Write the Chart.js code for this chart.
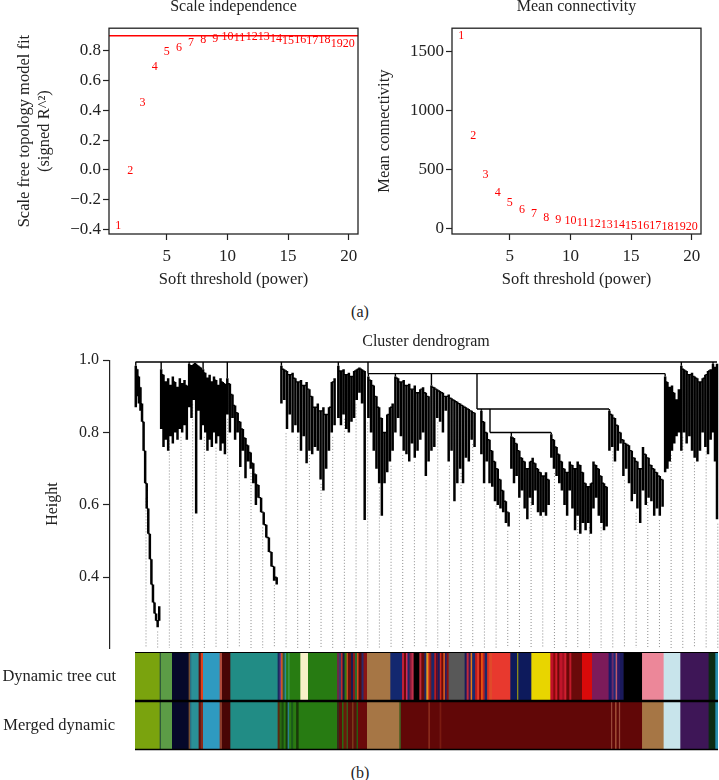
<!DOCTYPE html>
<html>
<head>
<meta charset="utf-8">
<script src="https://cdn.jsdelivr.net/npm/chart.js@4.4.0/dist/chart.umd.min.js"></script>
<style>
  html, body { margin: 0; padding: 0; background: #fff; }
  body { width: 719px; height: 780px; position: relative; overflow: hidden;
         font-family: "Liberation Serif", "DejaVu Serif", serif; color: #222; }
  .pane { position: absolute; }
  .cap { position: absolute; font-size: 16px; width: 40px; margin-left: -20px; text-align: center; }
</style>
</head>
<body>
<div class="pane" style="left:0;top:-3px"><canvas id="sftChart" width="362" height="300"></canvas></div>
<div class="pane" style="left:360px;top:-3px"><canvas id="kChart" width="359" height="300"></canvas></div>
<div class="cap" style="left:360px;top:303px">(a)</div>
<div class="pane" style="left:0;top:320px"><canvas id="dendroChart" width="742" height="330"></canvas></div>
<div class="pane" style="left:0;top:650px"><canvas id="colorChart" width="719" height="102"></canvas></div>
<div class="cap" style="left:360px;top:764px">(b)</div>

<script>
// ---- (a) soft threshold panels ----
const powers = [1, 2, 3, 4, 5, 6, 7, 8, 9, 10, 11, 12, 13, 14, 15, 16, 17, 18, 19, 20];
const sftFit = [-0.375, -0.005, 0.45, 0.69, 0.793, 0.822, 0.853, 0.874, 0.878, 0.894,
                0.885, 0.894, 0.89, 0.882, 0.867, 0.87, 0.867, 0.87, 0.849, 0.845];
const meanK = [1630, 790, 455, 305, 220, 160, 128, 92, 76, 63,
               48, 44, 33, 30, 26, 21, 20, 17, 16, 13];
const sftCut = 0.9;
const powerTicks = [5, 10, 15, 20];
const fitTicks = [-0.4, -0.2, 0, 0.2, 0.4, 0.6, 0.8];
const kTicks = [0, 500, 1000, 1500];

// ---- (b) dendrogram: leaf order positions and merge heights ----
const heightTicks = [0.4, 0.6, 0.8, 1.0];
const mergeLines = [          // [leaf1, height1, leaf2, height2]
  [1.5, 0.995, 583, 0.995],
  [234, 0.963, 531, 0.963],
  [234, 0.963, 234, 0.995],
  [343, 0.865, 475, 0.865],
  [343, 0.865, 343, 0.963],
  [356, 0.80, 417, 0.80],
  [356, 0.80, 356, 0.865]
];
const branchSpan = [[1, 26], [26, 54], [54, 68], [68, 92], [92, 144], [146, 202], [203, 232], [233, 260],
                    [260, 296], [296, 342], [346, 376], [376, 416], [416, 474], [474, 530], [530, 546],
                    [546, 578], [578, 584]];
const branchJoin = [0.995, 0.995, 0.995, 0.995, 0.995, 0.995, 0.995, 0.963,
                    0.963, 0.963, 0.865, 0.80, 0.80, 0.865, 0.963, 0.995, 0.995];
const branchTops = [
  [0.985, 0.975, 0.955, 0.925, 0.88, 0.83, 0.75, 0.66, 0.59, 0.52, 0.45, 0.38, 0.33, 0.30, 0.28, 0.32],
  [0.975, 0.96, 0.94, 0.95, 0.93, 0.955, 0.94, 0.925, 0.95, 0.935, 0.945, 0.93],
  [0.99, 0.985, 0.99, 0.99, 0.985, 0.98],
  [0.975, 0.965, 0.95, 0.96, 0.94, 0.955, 0.945, 0.93, 0.95, 0.94, 0.935],
  [0.95, 0.935, 0.905, 0.875, 0.855, 0.83, 0.81, 0.785, 0.765, 0.745, 0.715, 0.685, 0.655, 0.62, 0.58, 0.545, 0.51, 0.47, 0.43, 0.40],
  [0.985, 0.975, 0.97, 0.96, 0.965, 0.95, 0.94, 0.945, 0.93, 0.94, 0.92, 0.9, 0.87, 0.88, 0.86, 0.87, 0.85, 0.87, 0.94, 0.95],
  [0.985, 0.97, 0.975, 0.96, 0.965, 0.955, 0.97, 0.975, 0.98, 0.975, 0.97],
  [0.955, 0.945, 0.93, 0.90, 0.87, 0.84, 0.80, 0.85, 0.87, 0.88],
  [0.955, 0.95, 0.94, 0.945, 0.93, 0.935, 0.92, 0.93, 0.91, 0.92, 0.925, 0.91, 0.9],
  [0.93, 0.925, 0.92, 0.915, 0.91, 0.90, 0.905, 0.895, 0.89, 0.885, 0.88, 0.875, 0.87, 0.865, 0.86, 0.855],
  [0.86, 0.83, 0.80, 0.78, 0.75, 0.72, 0.70, 0.67, 0.64, 0.61, 0.58],
  [0.79, 0.785, 0.77, 0.75, 0.73, 0.72, 0.70, 0.72, 0.73, 0.715, 0.70, 0.69, 0.68, 0.69, 0.67],
  [0.795, 0.78, 0.76, 0.74, 0.72, 0.70, 0.69, 0.72, 0.71, 0.70, 0.72, 0.71, 0.69, 0.66, 0.65, 0.66, 0.72, 0.71, 0.70, 0.68, 0.66, 0.65],
  [0.86, 0.85, 0.84, 0.82, 0.80, 0.78, 0.77, 0.765, 0.75, 0.73, 0.72, 0.70, 0.76, 0.74, 0.73, 0.71, 0.70, 0.69, 0.68, 0.67],
  [0.955, 0.94, 0.925, 0.93, 0.91, 0.89, 0.92],
  [0.985, 0.975, 0.97, 0.96, 0.965, 0.955, 0.95, 0.94, 0.95, 0.96, 0.97, 0.975],
  [0.99, 0.98, 0.99]
];
const branchTips = [
  [0.87, 0.90, 0.88, 0.86, 0.83, 0.79, 0.72, 0.63, 0.56, 0.49, 0.42, 0.35, 0.30, 0.28, 0.262, 0.29],
  [0.81, 0.76, 0.78, 0.75, 0.79, 0.77, 0.80, 0.78, 0.81, 0.80, 0.82, 0.78],
  [0.87, 0.84, 0.89, 0.576, 0.86, 0.78],
  [0.82, 0.80, 0.75, 0.78, 0.76, 0.80, 0.77, 0.79, 0.75, 0.77, 0.74],
  [0.85, 0.80, 0.84, 0.78, 0.80, 0.705, 0.75, 0.674, 0.72, 0.70, 0.66, 0.60, 0.62, 0.58, 0.55, 0.51, 0.47, 0.43, 0.39, 0.38],
  [0.88, 0.89, 0.81, 0.85, 0.80, 0.82, 0.80, 0.75, 0.79, 0.715, 0.75, 0.74, 0.76, 0.75, 0.67, 0.64, 0.70, 0.75, 0.80, 0.82],
  [0.84, 0.82, 0.85, 0.81, 0.80, 0.83, 0.84, 0.89, 0.91, 0.88, 0.558],
  [0.84, 0.80, 0.75, 0.70, 0.66, 0.57, 0.66, 0.69, 0.72, 0.75],
  [0.80, 0.84, 0.79, 0.75, 0.74, 0.72, 0.77, 0.73, 0.75, 0.78, 0.80, 0.68, 0.72],
  [0.75, 0.76, 0.84, 0.83, 0.80, 0.86, 0.72, 0.75, 0.61, 0.66, 0.70, 0.66, 0.73, 0.72, 0.78, 0.76],
  [0.74, 0.66, 0.72, 0.66, 0.65, 0.61, 0.60, 0.59, 0.58, 0.55, 0.54],
  [0.70, 0.66, 0.68, 0.62, 0.64, 0.59, 0.56, 0.62, 0.60, 0.64, 0.58, 0.57, 0.58, 0.57, 0.60],
  [0.73, 0.70, 0.68, 0.66, 0.64, 0.60, 0.57, 0.64, 0.59, 0.53, 0.57, 0.52, 0.55, 0.53, 0.55, 0.52, 0.59, 0.62, 0.57, 0.55, 0.53, 0.54],
  [0.75, 0.76, 0.72, 0.75, 0.77, 0.68, 0.70, 0.66, 0.61, 0.63, 0.59, 0.55, 0.64, 0.60, 0.62, 0.61, 0.57, 0.59, 0.57, 0.595],
  [0.69, 0.70, 0.72, 0.75, 0.77, 0.79, 0.80],
  [0.75, 0.80, 0.77, 0.79, 0.75, 0.73, 0.72, 0.75, 0.80, 0.76, 0.74, 0.78],
  [0.80, 0.72, 0.56]
];
const guideCount = 50;
const guideFirst = 12;
const guideLast = 583.8;

// ---- (b) module colour rows (module sizes in leaf order) ----
const rowLabels = ['Dynamic tree cut', 'Merged dynamic'];
const dynamicSizes = [24.3, 1.4, 11, 16.6, 1.3, 1.4, 7.3, 2.2, 2.2, 16.6, 2.4, 8.3, 47.3,
  2, 1.5, 1.5, 2, 1.5, 2, 1.5, 10.7, 7.7, 29,
  2, 2, 1.5, 2, 2, 1.5, 3, 2, 2, 2, 1.5, 3, 2, 3.5,
  23.3, 11.7, 2, 2, 1.5, 2, 2, 2.1, 5.7,
  2, 3, 2, 1.5, 1.5, 2, 3, 1.5, 2, 2, 1.5, 2, 1.5, 2, 1.8,
  16, 2, 2, 2, 1.5, 3, 2, 2, 2, 1.5, 2, 2.5, 2, 2.9,
  18.3, 6.7, 1.3, 13, 19, 3, 2, 2, 2, 3, 2, 2, 3, 2, 10.7,
  10, 16.6, 3, 2, 2, 1.5, 3, 3.5, 18.4, 21.6, 16.7, 28.3, 6.7, 3];
const dynamicColors = ['#7aa30e', '#2f5a3a', '#5c9c46', '#06082a', '#7a4a2a', '#2c6f80', '#2a9097', '#5a1010', '#e0401a', '#2f9ac0', '#b04a3a', '#480505', '#218c85',
  '#1a2a60', '#6a3a8a', '#e05a1a', '#2a5a3a', '#2a8f95', '#287c12', '#3a9a4a', '#287c12', '#f8f0c8', '#277b12',
  '#6a2a4a', '#3a3a6a', '#c02a2a', '#1a1a40', '#2a7a12', '#c04a1a', '#6a1010', '#1a1a50', '#8a1a1a', '#2a6a2a', '#d05020', '#5a0a0a', '#2a2a6a', '#8a1515',
  '#a67645', '#13286f', '#c0203a', '#6a0a0a', '#d02a5a', '#1a2a6a', '#8a1a3a', '#c0304a', '#000000',
  '#c02a3a', '#6a0a0a', '#1a2a6a', '#e0a020', '#e04a1a', '#8a1a1a', '#1a286a', '#c01a1a', '#5a0a2a', '#1a1a5a', '#d02a1a', '#6a0a0a', '#e0601a', '#2a1a5a', '#8a1010',
  '#585858', '#1a1a5a', '#c02a3a', '#3a1a5a', '#e07a1a', '#1a2a70', '#c01a1a', '#e03a2a', '#8a0a0a', '#f06010', '#c02020', '#1a286a', '#d83020', '#e04a2a',
  '#e8392e', '#0d1a5c', '#8a8a1a', '#0d1a5c', '#e8d500', '#c0102a', '#8a0a0a', '#d01a2a', '#6a0a0a', '#c0152a', '#a01020', '#d02030', '#6a0808', '#c01a2a', '#6a0a0a',
  '#d90a0a', '#7c1b5a', '#1a1a6a', '#6a2a6a', '#1a2a7a', '#c05a6a', '#2a1a6a', '#1a1a5a', '#000000', '#ec8799', '#c8e4eb', '#3e1657', '#0c2b13', '#2a8fb0'];
const mergedSizes = [24.3, 1.4, 11, 16.6, 1.3, 1.4, 7.3, 2.2, 2.2, 16.6, 2.4, 8.3, 47.3,
  2, 2, 2, 2, 2, 1.5, 2, 2, 3, 2.5, 38.4,
  2, 3, 1.5, 3, 1.5, 4, 1.5, 3, 1.5, 9, 32.3,
  1.5, 27.5, 1.5, 10, 1.5, 169.7, 1.2, 3, 1.2, 2.5, 1.2, 21.9,
  21.6, 16.7, 28.3, 6.7, 3];
const mergedColors = ['#7aa30e', '#2f5a3a', '#5c9c46', '#06082a', '#7a4a2a', '#2c6f80', '#2a9097', '#5a1010', '#8a2a1a', '#2f9ac0', '#8a3a2a', '#480505', '#218c85',
  '#5a2a10', '#2a6a12', '#1a4a10', '#2a7a12', '#1a3a0a', '#2a8090', '#2a7a12', '#1a5a1a', '#2a7a12', '#1a3a0a', '#277b12',
  '#3a2a1a', '#5e0f0a', '#2a6a12', '#6a1a0a', '#3a5a1a', '#5e0f0a', '#7a3a1a', '#5e0f0a', '#2a5a10', '#6a0a0a', '#a67645',
  '#3a5a1a', '#610707', '#8a2a1a', '#610707', '#7a1a10', '#610707', '#9a4a3a', '#610707', '#b06040', '#610707', '#9a4a3a', '#610707',
  '#a67645', '#c8e4eb', '#3e1657', '#0c2b13', '#2a8fb0'];

const ink = '#222';
const serif = '"Liberation Serif", "DejaVu Serif", serif';
Chart.defaults.font.family = serif;
Chart.defaults.color = ink;

// R style box round the plotting region
const rBox = {
  id: 'rBox',
  afterDraw(chart) {
    const { ctx, chartArea: a } = chart;
    ctx.save();
    ctx.strokeStyle = ink;
    ctx.lineWidth = 1.3;
    ctx.strokeRect(a.left, a.top, a.right - a.left, a.bottom - a.top);
    ctx.restore();
  }
};

// power numbers written at each point, as text() does in R
const pointText = {
  id: 'pointText',
  afterDatasetsDraw(chart) {
    const ctx = chart.ctx;
    ctx.save();
    ctx.font = '12px ' + serif;
    ctx.fillStyle = '#f00';
    ctx.textAlign = 'center';
    ctx.textBaseline = 'middle';
    chart.getDatasetMeta(0).data.forEach((pt, i) => ctx.fillText(String(powers[i]), pt.x, pt.y));
    ctx.restore();
  }
};

const cutLine = {
  id: 'cutLine',
  afterDatasetsDraw(chart) {
    const { ctx, chartArea: a } = chart;
    const y = chart.scales.y.getPixelForValue(sftCut);
    ctx.save();
    ctx.strokeStyle = '#f00';
    ctx.lineWidth = 1.5;
    ctx.beginPath();
    ctx.moveTo(a.left, y);
    ctx.lineTo(a.right, y);
    ctx.stroke();
    ctx.restore();
  }
};

function tickGrid(len) {
  return { drawOnChartArea: false, drawTicks: true, tickLength: len, tickColor: ink, tickWidth: 1.2 };
}

// fixed axis size, and no extra room kept for the end labels
const fixWidth = w => s => { s.width = w; s.paddingTop = 0; s.paddingBottom = 0; };

function powerPanel(id, values, opts) {
  return new Chart(document.getElementById(id), {
    type: 'scatter',
    data: { datasets: [{ data: powers.map((p, i) => ({ x: p, y: values[i] })), pointRadius: 0 }] },
    options: {
      responsive: false,
      animation: false,
      layout: { padding: { left: 0, right: opts.right, top: 0, bottom: 0 } },
      plugins: {
        legend: { display: false },
        tooltip: { enabled: false },
        title: { display: true, text: opts.title, fullSize: false, color: ink,
                 font: { size: 16, weight: 'normal' }, padding: { top: 0, bottom: 12 } }
      },
      scales: {
        x: {
          type: 'linear', min: 0.24, max: 20.76,
          afterBuildTicks: s => { s.ticks = powerTicks.map(v => ({ value: v })); },
          afterFit: s => { s.height = 63; s.paddingLeft = 0; s.paddingRight = 0; },
          border: { display: false },
          grid: tickGrid(6),
          ticks: { font: { size: 17 }, color: ink, padding: 6, maxRotation: 0, autoSkip: false },
          title: { display: true, text: 'Soft threshold (power)', color: ink,
                   font: { size: 16.5 }, padding: { top: 0, bottom: 7 } }
        },
        y: {
          type: 'linear', min: opts.min, max: opts.max,
          afterBuildTicks: s => { s.ticks = opts.ticks.map(v => ({ value: v })); },
          afterFit: fixWidth(opts.axisWidth),
          border: { display: false },
          grid: tickGrid(6),
          ticks: { font: { size: 17 }, color: ink, padding: 2, autoSkip: false, callback: opts.fmt },
          title: { display: true, text: opts.yTitle, color: ink,
                   font: { size: 16.5 }, padding: { top: 15, bottom: 0 } }
        }
      }
    },
    plugins: opts.plugins
  });
}

powerPanel('sftChart', sftFit, {
  title: 'Scale independence', right: 4, axisWidth: 109,
  min: -0.431, max: 0.951, ticks: fitTicks,
  fmt: v => v.toFixed(1).replace('-', '\u2212'),
  yTitle: ['Scale free topology model fit', '(signed R^\u00b2)'],
  plugins: [rBox, cutLine, pointText]
});

powerPanel('kChart', meanK, {
  title: 'Mean connectivity', right: 18, axisWidth: 92,
  min: -45, max: 1698, ticks: kTicks,
  fmt: v => String(v),
  yTitle: 'Mean connectivity',
  plugins: [rBox, pointText]
});

// ---- dendrogram: turn branches into line segments ----
const spikeSegs = [], linkSegs = [], guideSegs = [], leafLows = [];
const seg = (arr, x1, y1, x2, y2) => arr.push({ x: x1, y: y1 }, { x: x2, y: y2 }, { x: x2, y: null });

mergeLines.forEach(m => seg(linkSegs, m[0], m[1], m[2], m[3]));
branchSpan.forEach(([a, b], k) => {
  const tops = branchTops[k], tips = branchTips[k], n = tips.length, step = (b - a) / n;
  const pos = tips.map((_, i) => a + (i + 0.5) * step);
  seg(linkSegs, pos[0], tops[0], pos[0], branchJoin[k]);
  for (let i = 0; i < n; i++) {
    const cPrev = i > 0 ? Math.min(tops[i - 1], tops[i]) : tops[i];
    const cNext = i < n - 1 ? Math.min(tops[i], tops[i + 1]) : tops[i];
    seg(spikeSegs, pos[i], tops[i], pos[i], Math.min(tips[i], cPrev, cNext));
    if (i > 0) seg(linkSegs, pos[i - 1], cPrev, pos[i], cPrev);
    leafLows.push([pos[i], tips[i]]);
  }
});

const dendroMin = 0.2044;
for (let k = 0; k < guideCount; k++) {
  const g = guideFirst + k * (guideLast - guideFirst) / (guideCount - 1);
  let best = leafLows[0];
  leafLows.forEach(l => { if (Math.abs(l[0] - g) < Math.abs(best[0] - g)) best = l; });
  seg(guideSegs, g, best[1] - 0.012, g, dendroMin);
}

const lineSet = (data, width, color, dash) => ({
  data, showLine: true, pointRadius: 0, borderWidth: width, borderColor: color,
  borderDash: dash || [], spanGaps: false, fill: false
});

new Chart(document.getElementById('dendroChart'), {
  type: 'scatter',
  data: {
    datasets: [
      lineSet(spikeSegs, 2.5, '#000'),
      lineSet(linkSegs, 1.4, '#000'),
      lineSet(guideSegs, 1, '#8c8c8c', [1, 2])
    ]
  },
  options: {
    responsive: false,
    animation: false,
    layout: { padding: { left: 0, right: 0, top: 0, bottom: 2 } },
    plugins: {
      legend: { display: false },
      tooltip: { enabled: false },
      title: { display: true, text: 'Cluster dendrogram', fullSize: false, color: ink,
               font: { size: 16, weight: 'normal' }, padding: { top: 12, bottom: 9 } }
    },
    scales: {
      x: { type: 'linear', min: -24, max: 608, display: false },
      y: {
        type: 'linear', min: dendroMin, max: 1.0,
        afterBuildTicks: s => { s.ticks = heightTicks.map(v => ({ value: v })); },
        afterFit: fixWidth(110),
        border: { display: true, color: ink, width: 1.2 },
        grid: tickGrid(7),
        ticks: { font: { size: 16 }, color: ink, padding: 4, autoSkip: false, callback: v => v.toFixed(1) },
        title: { display: true, text: 'Height', color: ink, font: { size: 16 }, padding: { top: 43, bottom: 0 } }
      }
    }
  }
});

// ---- module colour rows as stacked horizontal bars ----
const colorSets = [];
dynamicSizes.forEach((w, i) => colorSets.push({ data: [w, null], backgroundColor: dynamicColors[i] }));
mergedSizes.forEach((w, i) => colorSets.push({ data: [null, w], backgroundColor: mergedColors[i] }));
colorSets.forEach(d => Object.assign(d, { borderWidth: 0, barPercentage: 1, categoryPercentage: 1, stack: 'rows' }));
const rowTotal = dynamicSizes.reduce((s, v) => s + v, 0);

const rowRules = {
  id: 'rowRules',
  afterDatasetsDraw(chart) {
    const { ctx, chartArea: a } = chart;
    const mid = (a.top + a.bottom) / 2;
    ctx.save();
    ctx.strokeStyle = '#000';
    [[a.top + 0.5, 1], [mid, 2.5], [a.bottom - 0.5, 1.5]].forEach(([y, w]) => {
      ctx.lineWidth = w;
      ctx.beginPath();
      ctx.moveTo(a.left, y);
      ctx.lineTo(a.right, y);
      ctx.stroke();
    });
    ctx.restore();
  }
};

new Chart(document.getElementById('colorChart'), {
  type: 'bar',
  data: { labels: rowLabels, datasets: colorSets },
  options: {
    indexAxis: 'y',
    responsive: false,
    animation: false,
    layout: { padding: { left: 0, right: 1, top: 2, bottom: 2 } },
    plugins: { legend: { display: false }, tooltip: { enabled: false } },
    scales: {
      x: { stacked: true, min: 0, max: rowTotal, display: false },
      y: {
        stacked: true,
        afterFit: fixWidth(135),
        border: { display: false },
        grid: { display: false, drawTicks: false },
        ticks: { font: { size: 16.5 }, color: ink, padding: 19, crossAlign: 'center' }
      }
    }
  },
  plugins: [rowRules]
});
</script>
</body>
</html>
